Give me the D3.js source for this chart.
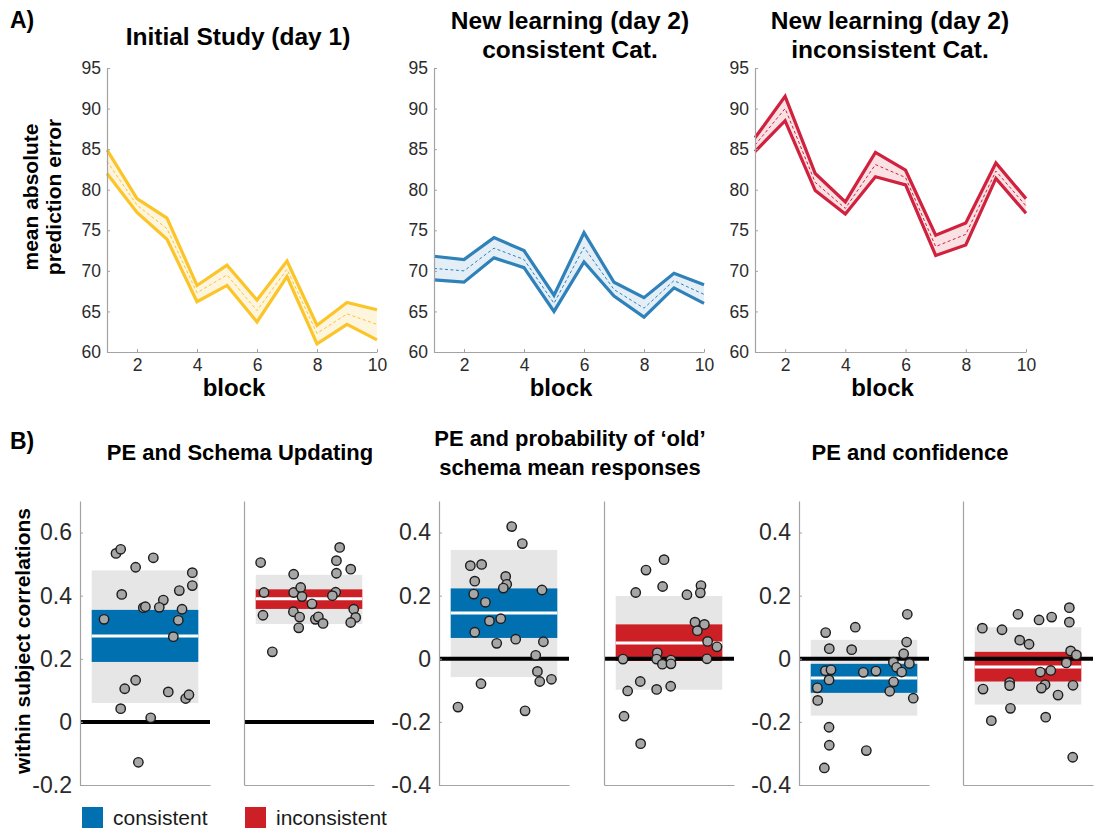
<!DOCTYPE html>
<html>
<head>
<meta charset="utf-8">
<script src="https://cdn.jsdelivr.net/npm/d3@7"></script>
<style>
body { margin: 0; background: #fff; }
text { font-family: "Liberation Sans", Arial, sans-serif; }
</style>
</head>
<body>
<svg id="fig" width="1094" height="829"></svg>
<script>
// ---- Panel A data: mean absolute prediction error per block (upper bound, mean, lower bound)
const blocks = [1, 2, 3, 4, 5, 6, 7, 8, 9, 10];
const blockTicks = [2, 4, 6, 8, 10];
const errorTicks = [60, 65, 70, 75, 80, 85, 90, 95];

const studyUpper = [84.9, 78.9, 76.5, 68.2, 70.7, 66.4, 71.2, 63.3, 66.1, 65.2];
const studyMean  = [83.5, 78.1, 75.2, 67.3, 69.5, 65.1, 70.2, 62.3, 64.7, 63.4];
const studyLower = [82.0, 77.2, 73.9, 66.2, 68.2, 63.7, 69.3, 61.0, 63.4, 61.5];

const consUpper = [71.8, 71.4, 74.1, 72.5, 67.0, 74.7, 68.6, 66.7, 69.7, 68.3];
const consMean  = [70.3, 70.0, 72.8, 71.4, 66.0, 72.9, 67.7, 65.4, 68.8, 67.1];
const consLower = [68.9, 68.6, 71.6, 70.4, 65.0, 71.1, 66.9, 64.3, 67.9, 66.0];

const inconsUpper = [86.4, 91.5, 82.0, 78.5, 84.6, 82.4, 74.4, 75.9, 83.3, 78.9];
const inconsMean  = [85.5, 90.0, 80.9, 77.7, 83.1, 81.5, 73.0, 74.5, 82.3, 78.0];
const inconsLower = [84.7, 88.5, 79.9, 77.0, 81.6, 80.6, 71.9, 73.2, 81.4, 77.1];

// ---- Panel B data: within subject correlations, [jittered x, r]
const updatingCons = [
  [0.685, 0.325], [0.777, 0.534], [0.813, 0.547], [0.928, 0.49], [1.064, 0.52], [0.821, 0.404],
  [1.364, 0.473], [1.364, 0.432], [1.264, 0.416], [1.141, 0.386], [0.987, 0.362], [1.003, 0.365],
  [1.110, 0.363], [1.285, 0.357], [1.256, 0.322], [1.218, 0.27], [0.844, 0.105], [0.928, 0.132],
  [1.179, 0.095], [1.313, 0.074], [1.338, 0.086], [0.813, 0.042], [1.044, 0.013], [0.949, -0.128]
];
const updatingIncons = [
  [0.628, 0.505], [0.654, 0.41], [0.646, 0.338], [0.718, 0.222], [0.882, 0.468], [0.882, 0.41],
  [0.936, 0.426], [0.946, 0.397], [1.023, 0.374], [0.880, 0.349], [0.928, 0.332], [0.921, 0.298],
  [1.049, 0.325], [1.072, 0.333], [1.108, 0.312], [1.236, 0.553], [1.211, 0.511], [1.211, 0.471],
  [1.321, 0.484], [1.205, 0.411], [1.180, 0.4], [1.344, 0.357], [1.359, 0.331], [1.321, 0.315]
];
const oldCons = [
  [1.059, 0.419], [1.141, 0.365], [0.741, 0.295], [0.828, 0.299], [0.775, 0.246], [1.013, 0.261],
  [1.021, 0.236], [0.995, 0.224], [1.292, 0.218], [0.767, 0.205], [0.857, 0.179], [0.888, 0.12],
  [0.975, 0.127], [0.775, 0.084], [0.944, 0.049], [1.090, 0.062], [1.303, 0.054], [1.244, 0.011],
  [1.257, -0.04], [1.275, -0.072], [1.365, -0.065], [0.823, -0.079], [0.646, -0.153], [1.162, -0.165]
];
const oldIncons = [
  [0.962, 0.314], [0.823, 0.281], [0.951, 0.229], [0.744, 0.21], [1.138, 0.203], [1.246, 0.232],
  [1.241, 0.209], [1.200, 0.116], [1.272, 0.109], [1.218, 0.089], [1.297, 0.055], [1.369, 0.038],
  [1.292, 0.0], [0.646, -0.001], [0.910, 0.019], [0.905, -0.001], [0.949, -0.017], [1.015, -0.004],
  [1.015, -0.016], [0.779, -0.072], [0.682, -0.102], [0.905, -0.097], [1.013, -0.087], [0.654, -0.182],
  [0.782, -0.269]
];
const confCons = [
  [1.333, 0.141], [0.933, 0.1], [0.705, 0.083], [1.328, 0.053], [0.733, 0.032], [0.905, 0.029],
  [1.305, 0.016], [1.226, -0.011], [1.349, -0.015], [1.251, -0.027], [0.703, -0.038], [0.746, -0.035],
  [0.995, -0.043], [1.092, -0.039], [1.290, -0.042], [0.731, -0.067], [1.228, -0.073], [1.198, -0.103],
  [0.641, -0.092], [0.644, -0.132], [1.379, -0.125], [0.731, -0.217], [0.733, -0.274], [1.018, -0.291],
  [0.695, -0.346]
];
const confIncons = [
  [1.318, 0.162], [1.318, 0.116], [0.923, 0.141], [1.085, 0.123], [1.182, 0.132], [0.649, 0.097],
  [0.800, 0.092], [0.936, 0.059], [1.008, 0.046], [1.328, 0.025], [1.372, 0.012], [1.295, -0.013],
  [1.095, -0.042], [1.175, -0.037], [0.859, -0.075], [0.859, -0.085], [1.131, -0.082], [1.103, -0.093],
  [1.346, -0.084], [0.654, -0.096], [1.231, -0.115], [0.865, -0.157], [0.718, -0.196], [1.136, -0.185],
  [1.344, -0.312]
];

// box stats: [sd low, ci low, mean, ci high, sd high]
const updatingConsStats   = [0.06, 0.19, 0.272, 0.355, 0.48];
const updatingInconsStats = [0.31, 0.358, 0.39, 0.42, 0.466];
const oldConsStats        = [-0.058, 0.066, 0.145, 0.223, 0.345];
const oldInconsStats      = [-0.098, -0.007, 0.05, 0.109, 0.199];
const confConsStats       = [-0.18, -0.108, -0.061, -0.016, 0.06];
const confInconsStats     = [-0.145, -0.072, -0.026, 0.022, 0.1];

const ticksB1 = [-0.2, 0, 0.2, 0.4, 0.6];
const ticksB23 = [-0.4, -0.2, 0, 0.2, 0.4];

const svg = d3.select("#fig");
const axisGray = "#a3a3a3";
const tickText = "#2b2b2b";

function styleAxis(g, fontSize) {
  g.select(".domain").attr("stroke", axisGray).attr("stroke-width", 1.2);
  g.selectAll(".tick line").attr("stroke", axisGray);
  g.selectAll(".tick text").attr("fill", tickText)
    .style("font-size", fontSize + "px")
    .style("font-family", "'Liberation Sans', Arial, sans-serif");
}

// ---- Panel A: line panels
function linePanel(x0, x1, upper, mean, lower, color, fill) {
  const x = d3.scaleLinear().domain([1, 10]).range([x0, x1]);
  const y = d3.scaleLinear().domain([60, 95]).range([352, 68]);
  const g = svg.append("g");

  const area = d3.area()
    .x((d, i) => x(blocks[i]))
    .y0((d, i) => y(lower[i]))
    .y1((d, i) => y(upper[i]));
  g.append("path").datum(upper).attr("d", area).attr("fill", fill);

  const line = d3.line().x((d, i) => x(blocks[i])).y(d => y(d));
  g.append("path").datum(mean).attr("d", line)
    .attr("fill", "none").attr("stroke", color).attr("stroke-width", 1)
    .attr("stroke-dasharray", "3,2.5");
  [upper, lower].forEach(s => {
    g.append("path").datum(s).attr("d", line)
      .attr("fill", "none").attr("stroke", color).attr("stroke-width", 3.2)
      .attr("stroke-linejoin", "miter");
  });

  const ya = g.append("g").attr("transform", `translate(${x0},0)`)
    .call(d3.axisLeft(y).tickValues(errorTicks).tickSize(-3).tickSizeOuter(0).tickPadding(6));
  styleAxis(ya, 17.5);
  const xa = g.append("g").attr("transform", `translate(0,352)`)
    .call(d3.axisBottom(x).tickValues(blockTicks).tickSize(-3).tickSizeOuter(0).tickPadding(7));
  styleAxis(xa, 17.5);

  g.append("text").attr("x", (x0 + x1) / 2 - 8).attr("y", 396)
    .attr("text-anchor", "middle").style("font-size", "24px").style("font-weight", "bold")
    .text("block");
}

linePanel(107, 377, studyUpper, studyMean, studyLower, "#fbc52a", "#fef5df");
linePanel(434, 704, consUpper, consMean, consLower, "#2f81b9", "#e3eef7");
linePanel(755, 1026, inconsUpper, inconsMean, inconsLower, "#d0223f", "#f9e1e4");

function title(lines, cx, y0, size, lh) {
  lines.forEach((t, i) => {
    svg.append("text").attr("x", cx).attr("y", y0 + i * lh)
      .attr("text-anchor", "middle").style("font-size", size + "px").style("font-weight", "bold")
      .text(t);
  });
}
title(["Initial Study (day 1)"], 238, 45, 24.5, 0);
title(["New learning (day 2)", "consistent Cat."], 570, 29, 24.5, 29);
title(["New learning (day 2)", "inconsistent Cat."], 890, 29, 24.5, 29);

svg.append("text").attr("x", 10).attr("y", 28).style("font-size", "23px").style("font-weight", "bold").text("A)");
svg.append("text").attr("x", 10).attr("y", 449).style("font-size", "23px").style("font-weight", "bold").text("B)");

const yLab = svg.append("text").attr("transform", "translate(38,197) rotate(-90)")
  .attr("text-anchor", "middle").style("font-size", "21px").style("font-weight", "bold");
yLab.append("tspan").attr("x", 0).attr("y", 0).text("mean absolute");
yLab.append("tspan").attr("x", 0).attr("y", 23).text("prediction error");

// ---- Panel B: correlation dot plots
const blue = "#0070b0", red = "#cc1f26";

function dotPanel(ax, domain, ticks, pts, stats, color, withTicks) {
  const x = d3.scaleLinear().domain([0.5, 1.5]).range([ax, ax + 130]);
  const y = d3.scaleLinear().domain(domain).range([785, 501]);
  const g = svg.append("g");

  g.append("rect").attr("x", x(0.59)).attr("width", x(1.41) - x(0.59))
    .attr("y", y(stats[4])).attr("height", y(stats[0]) - y(stats[4])).attr("fill", "#e6e6e6");
  g.append("rect").attr("x", x(0.59)).attr("width", x(1.41) - x(0.59))
    .attr("y", y(stats[3])).attr("height", y(stats[1]) - y(stats[3])).attr("fill", color);
  g.append("line").attr("x1", x(0.59)).attr("x2", x(1.41))
    .attr("y1", y(stats[2])).attr("y2", y(stats[2]))
    .attr("stroke", "#fff").attr("stroke-width", 3);

  g.append("line").attr("x1", x(0.5)).attr("x2", x(1.5))
    .attr("y1", y(0)).attr("y2", y(0)).attr("stroke", "#000").attr("stroke-width", 4);

  const ya = g.append("g").attr("transform", `translate(${ax},0)`)
    .call(d3.axisLeft(y).tickValues(withTicks ? ticks : []).tickSize(-3).tickSizeOuter(0)
      .tickPadding(8).tickFormat(d => d === 0 ? "0" : String(d)));
  styleAxis(ya, 23);
  const xa = g.append("g").attr("transform", "translate(0,785)")
    .call(d3.axisBottom(x).tickValues([]).tickSizeOuter(0));
  styleAxis(xa, 23);

  g.selectAll("circle").data(pts).enter().append("circle")
    .attr("cx", d => x(d[0])).attr("cy", d => y(d[1])).attr("r", 4.7)
    .attr("fill", "#a6a6a6").attr("stroke", "#1c1c1c").attr("stroke-width", 1.4);
}

dotPanel(80, [-0.2, 0.7], ticksB1, updatingCons, updatingConsStats, blue, true);
dotPanel(244, [-0.2, 0.7], ticksB1, updatingIncons, updatingInconsStats, red, false);
dotPanel(439, [-0.4, 0.5], ticksB23, oldCons, oldConsStats, blue, true);
dotPanel(604, [-0.4, 0.5], ticksB23, oldIncons, oldInconsStats, red, false);
dotPanel(799, [-0.4, 0.5], ticksB23, confCons, confConsStats, blue, true);
dotPanel(963, [-0.4, 0.5], ticksB23, confIncons, confInconsStats, red, false);

title(["PE and Schema Updating"], 240, 460, 22, 0);
title(["PE and probability of \u2018old\u2019", "schema mean responses"], 570, 446, 22, 29);
title(["PE and confidence"], 910, 460, 22, 0);

svg.append("text").attr("transform", "translate(30,641) rotate(-90)")
  .attr("text-anchor", "middle").style("font-size", "21px").style("font-weight", "bold")
  .text("within subject correlations");

// legend
const legendItems = [["consistent", blue, 82], ["inconsistent", red, 245]];
legendItems.forEach(([label, c, lx]) => {
  svg.append("rect").attr("x", lx).attr("y", 807).attr("width", 21).attr("height", 21).attr("fill", c);
  svg.append("text").attr("x", lx + 31).attr("y", 825).style("font-size", "21px")
    .attr("fill", "#1a1a1a").text(label);
});
</script>
</body>
</html>
